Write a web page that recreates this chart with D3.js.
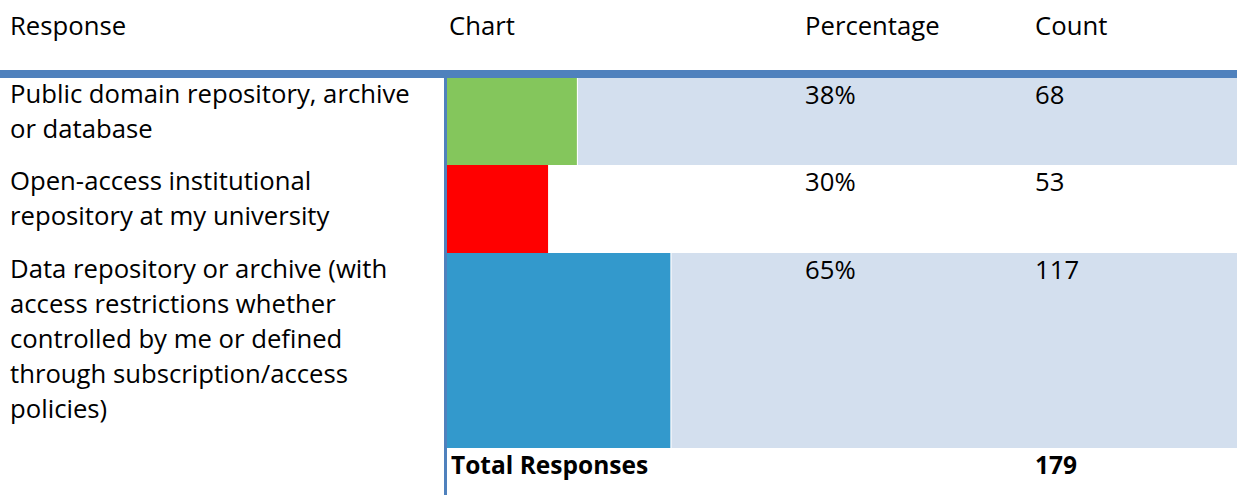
<!DOCTYPE html>
<html><head><meta charset="utf-8">
<script src="https://cdn.jsdelivr.net/npm/d3@7"></script>
<style>html,body{margin:0;padding:0;background:#fff;overflow:hidden}svg{display:block}</style>
</head><body><svg id="c" width="1237" height="495"></svg>
<script>
const headers = ["Response", "Chart", "Percentage", "Count"];
const categories = [
  ["Public domain repository, archive", "or database"],
  ["Open-access institutional", "repository at my university"],
  ["Data repository or archive (with", "access restrictions whether", "controlled by me or defined", "through subscription/access", "policies)"]
];
const counts = [68, 53, 117];
const percentages = [38, 30, 65];
const totalLabel = "Total Responses";
const total = 179;
const barColors = ["#84c65c", "#ff0000", "#3399cc"];

const W = 1237, H = 495;
const svg = d3.select("#c");
const font = "'Open Sans', 'Liberation Sans', sans-serif";
const fs = 25.7;
const fsBold = 24.5;
const lineH = 35;

const colX = {resp: 10, chart: 449, pct: 805, cnt: 1035};
const chartLeft = 447;
const x = d3.scaleLinear().domain([0, 1]).range([chartLeft, chartLeft + 342]);

// row layout
const rowTops = [78, 165, 253, 448];
const rowBottoms = [165, 253, 448, 495];

// header
svg.selectAll("text.h").data(headers).join("text")
  .attr("x", (d, i) => [colX.resp, colX.chart, colX.pct, colX.cnt][i])
  .attr("y", 35).attr("font-family", font).attr("font-size", fs).attr("fill", "#000")
  .text(d => d);

// rows
categories.forEach((lines, i) => {
  const top = rowTops[i], bot = rowBottoms[i];
  if (i % 2 === 0) {
    svg.append("rect").attr("x", chartLeft).attr("y", top).attr("width", W - chartLeft).attr("height", bot - top).attr("fill", "#d3dfee");
  }
  const xe = x(counts[i] / total);
  svg.append("rect").attr("x", chartLeft).attr("y", top).attr("width", xe - chartLeft).attr("height", bot - top).attr("fill", barColors[i]);
  svg.append("rect").attr("x", xe).attr("y", top).attr("width", 1).attr("height", bot - top).attr("fill", "#fff");
  const t = svg.append("text").attr("font-family", font).attr("font-size", fs).attr("fill", "#000");
  lines.forEach((ln, j) => {
    t.append("tspan").attr("x", colX.resp).attr("y", top + 25 + j * lineH).text(ln);
  });
  svg.append("text").attr("x", colX.pct).attr("y", top + 26).attr("font-family", font).attr("font-size", fs).text(percentages[i] + "%");
  svg.append("text").attr("x", colX.cnt).attr("y", top + 26).attr("font-family", font).attr("font-size", fs).text(counts[i]);
});

// total row
svg.append("text").attr("x", 451).attr("y", 474).attr("font-family", font).attr("font-size", fsBold).attr("font-weight", "bold").text(totalLabel);
svg.append("text").attr("x", colX.cnt).attr("y", 474).attr("font-family", font).attr("font-size", fsBold).attr("font-weight", "bold").text(total);

// lines
svg.append("rect").attr("x", 0).attr("y", 70).attr("width", W).attr("height", 8).attr("fill", "#4f81bd");
svg.append("rect").attr("x", 444).attr("y", 78).attr("width", 3).attr("height", H - 78).attr("fill", "#4f81bd");
</script></body></html>
